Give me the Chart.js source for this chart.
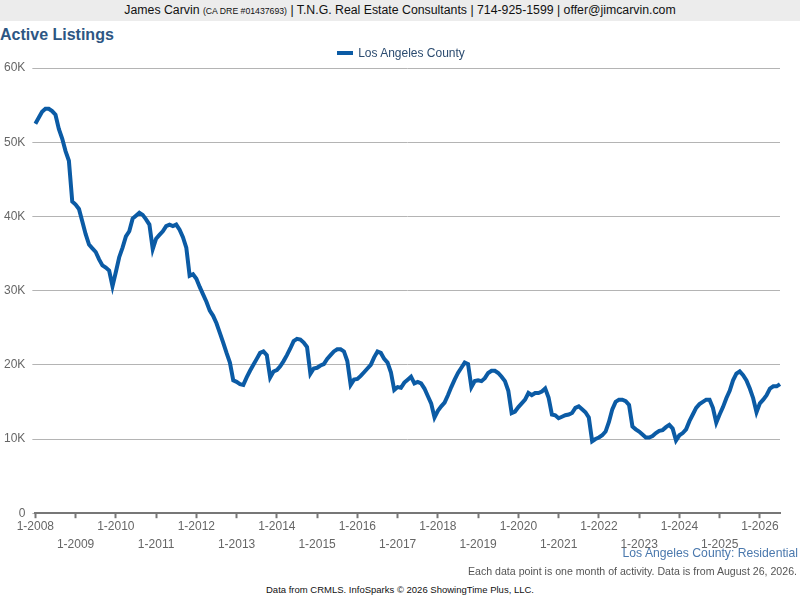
<!DOCTYPE html>
<html>
<head>
<meta charset="utf-8">
<script src="https://cdn.jsdelivr.net/npm/chart.js@4.4.1/dist/chart.umd.min.js"></script>
<style>
  html, body { margin: 0; padding: 0; background: #fff; }
  body { width: 800px; height: 600px; position: relative; overflow: hidden; font-family: "Liberation Sans", Arial, sans-serif; }
  #header { position: absolute; left: 0; top: 0; width: 800px; height: 21px; background: #ececec; text-align: center; font-size: 12.3px; line-height: 21px; color: #111; }
  #header small { font-size: 8.7px; }
  #title { position: absolute; left: 0px; top: 26px; font-size: 16px; font-weight: bold; color: #2d5683; }
  #leyenda { position: absolute; left: 0; top: 45px; width: 802px; text-align: center; font-size: 12px; line-height: 16px; color: #2c4c70; }
  #leyenda span.caja { display: inline-block; width: 16px; height: 4px; background: #0b5ba5; vertical-align: middle; margin-right: 5px; position: relative; top: -1px; }
  #wrap { position: absolute; left: 0; top: 42px; width: 800px; height: 511px; }
  #region { position: absolute; right: 2px; top: 546px; font-size: 12.2px; color: #4a78ad; }
  #note { position: absolute; right: 3px; top: 565px; font-size: 10.6px; color: #555; }
  #source { position: absolute; left: 0; width: 800px; top: 584px; text-align: center; font-size: 9.5px; color: #111; }
</style>
</head>
<body>
<div id="header">James Carvin <small>(CA DRE #01437693)</small> | T.N.G. Real Estate Consultants | 714-925-1599 | offer@jimcarvin.com</div>
<div id="title">Active Listings</div>
<div id="wrap"><canvas id="grafica"></canvas></div>
<div id="leyenda"></div>
<div id="region">Los Angeles County: Residential</div>
<div id="note">Each data point is one month of activity. Data is from August 26, 2026.</div>
<div id="source">Data from CRMLS. InfoSparks © 2026 ShowingTime Plus, LLC.</div>

<script>
// meses 1-2008 .. 7-2026
const anioInicio = 2008
const totalMeses = 223

const serieNombre = "Los Angeles County"

// miles de listados activos, un valor por mes
const listados = [
  52.5, 53.3, 54.1, 54.5, 54.5, 54.2, 53.7, 51.8, 50.5, 48.8, 47.5, 42.0,   // 2008
  41.6, 41.0, 39.3, 37.6, 36.2, 35.7, 35.2, 34.2, 33.4, 33.1, 32.7, 30.6,   // 2009
  32.5, 34.5, 35.8, 37.3, 38.0, 39.7, 40.1, 40.5, 40.2, 39.6, 38.9, 35.6,   // 2010
  37.0, 37.5, 38.0, 38.7, 38.9, 38.7, 38.9, 38.2, 37.2, 35.8, 32.0, 32.2,   // 2011
  31.6, 30.5, 29.5, 28.5, 27.3, 26.6, 25.6, 24.3, 23.0, 21.6, 20.3, 17.9,   // 2012
  17.7, 17.4, 17.3, 18.3, 19.2, 20.0, 20.8, 21.6, 21.8, 21.3, 18.3, 19.1,   // 2013
  19.3, 19.8, 20.5, 21.3, 22.2, 23.2, 23.5, 23.4, 23.0, 22.4, 18.8, 19.5,   // 2014
  19.6, 19.9, 20.1, 20.8, 21.3, 21.8, 22.1, 22.1, 21.8, 20.5, 17.3, 18.0,   // 2015
  18.1, 18.5, 19.0, 19.5, 20.0, 21.0, 21.8, 21.6, 20.8, 20.3, 19.0, 16.6,   // 2016
  17.0, 16.9, 17.6, 18.0, 18.4, 17.5, 17.7, 17.5, 16.8, 15.8, 14.8, 12.9,   // 2017
  13.8, 14.4, 14.9, 15.9, 17.0, 18.0, 18.9, 19.6, 20.3, 20.1, 17.0, 17.8,   // 2018
  17.9, 17.8, 18.2, 18.9, 19.2, 19.2, 18.9, 18.4, 17.8, 16.5, 13.5, 13.7,   // 2019
  14.3, 14.8, 15.3, 16.2, 15.9, 16.2, 16.2, 16.4, 16.8, 15.6, 13.3, 13.2,   // 2020
  12.8, 13.0, 13.2, 13.3, 13.5, 14.2, 14.4, 14.0, 13.6, 12.9, 9.7, 10.0,    // 2021
  10.2, 10.5, 11.0, 12.3, 14.0, 15.0, 15.3, 15.3, 15.1, 14.6, 11.7, 11.3,   // 2022
  11.0, 10.6, 10.2, 10.2, 10.4, 10.8, 11.1, 11.2, 11.6, 11.9, 11.4, 9.8,    // 2023
  10.5, 10.8, 11.3, 12.4, 13.3, 14.2, 14.7, 15.0, 15.3, 15.3, 14.2, 12.2,   // 2024
  13.3, 14.3, 15.5, 16.5, 17.9, 18.8, 19.1, 18.6, 17.9, 16.8, 15.5, 13.6,   // 2025
  14.8, 15.3, 15.9, 16.8, 17.1, 17.1, 17.4                                  // 2026
].map(v => v * 1000)

const ticksY = [0, 10000, 20000, 30000, 40000, 50000, 60000]
const etiquetasY = ["0", "10K", "20K", "30K", "40K", "50K", "60K"]

const meses = []
for (let i = 0; i < totalMeses; i++) {
  meses.push((i % 12 + 1) + "-" + (anioInicio + Math.floor(i / 12)))
}

const azul = "#0b5ba5"
const ctx = document.getElementById('grafica').getContext('2d')

// leyenda en html, centrada en la pagina como en la imagen
document.getElementById('leyenda').innerHTML = `<span class="caja"></span>${serieNombre}`

new Chart(ctx, {
  type: 'line',
  data: {
    labels: meses,
    datasets: [{
      label: serieNombre,
      data: listados,
      borderColor: azul,
      backgroundColor: azul,
      borderWidth: 4,
      pointRadius: 0,
      tension: 0,
      fill: false
    }]
  },
  options: {
    responsive: true,
    maintainAspectRatio: false,
    animation: false,
    layout: { padding: { left: -3, right: 20, top: 26, bottom: 0 } },
    plugins: {
      legend: { display: false },
      tooltip: { enabled: false }
    },
    scales: {
      x: {
        offset: false,
        border: { display: true, color: '#777', width: 2 },
        grid: {
          drawOnChartArea: false,
          drawTicks: true,
          tickLength: 5,
          tickWidth: 2,
          tickColor: '#777'
        },
        ticks: {
          autoSkip: false,
          maxRotation: 0,
          minRotation: 0,
          padding: 0,
          color: '#666',
          font: { family: 'Liberation Sans', size: 12, lineHeight: 1.45 },
          callback: function (val, i) {
            const lab = meses[i]
            if (!lab.startsWith("1-")) return null
            const anio = anioInicio + Math.floor(i / 12)
            return (anio % 2 === 0) ? [lab, ''] : ['', lab]
          }
        }
      },
      y: {
        min: 0,
        max: 60000,
        border: { display: false },
        grid: { color: '#b4b4b4', lineWidth: 1, tickLength: 3, drawTicks: true },
        afterBuildTicks: axis => { axis.ticks = ticksY.map(v => ({ value: v })) },
        ticks: {
          color: '#666',
          padding: 7,
          font: { family: 'Liberation Sans', size: 12 },
          callback: function (v) { return etiquetasY[ticksY.indexOf(v)] }
        }
      }
    }
  }
})
</script>
</body>
</html>
